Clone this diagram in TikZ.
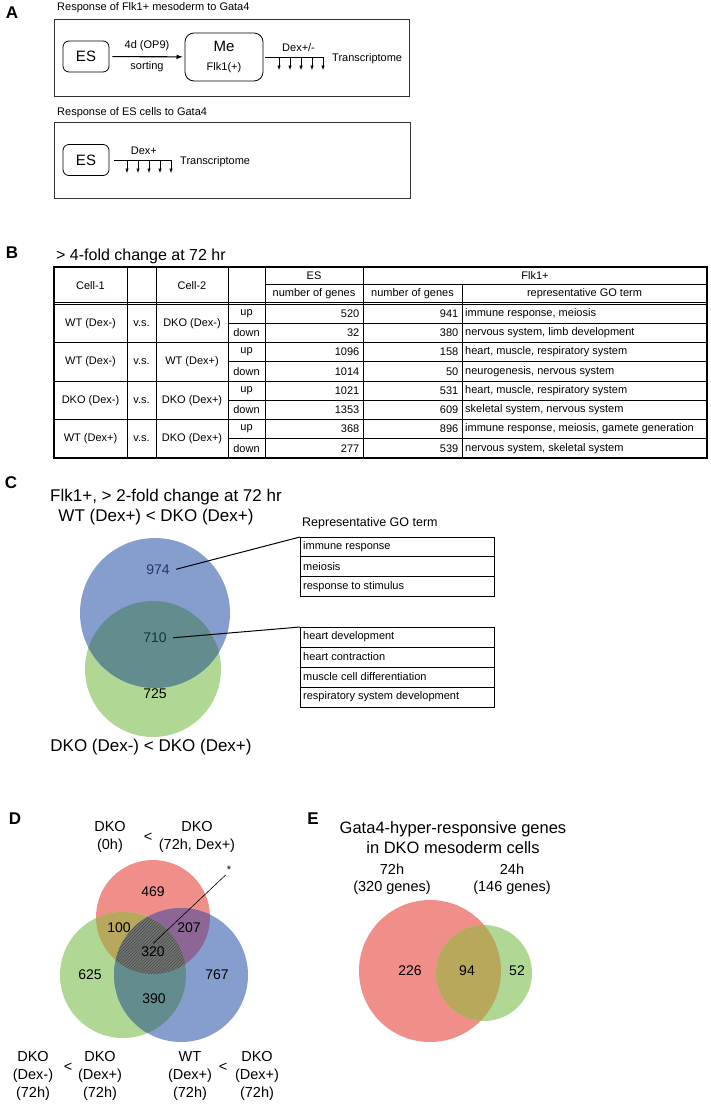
\documentclass[tikz,border=0pt]{standalone}
\usepackage{fontspec}
\setmainfont{Liberation Sans}
\usetikzlibrary{patterns}
\definecolor{vblue}{RGB}{134,158,205}
\definecolor{vgreen}{RGB}{176,216,148}
\definecolor{vteal}{RGB}{98,140,142}
\definecolor{vred}{RGB}{240,142,138}
\definecolor{vredgreen}{RGB}{183,168,92}
\definecolor{vredblue}{RGB}{140,102,148}
\definecolor{vtriple}{RGB}{112,116,112}
\definecolor{vnavy}{RGB}{35,55,100}
\definecolor{vdark}{RGB}{28,48,66}
\begin{document}
\begin{tikzpicture}[x=1pt,y=-1pt,>=latex,
  lbl/.style={font=\fontsize{17}{20}\selectfont\bfseries},
  ttl/.style={font=\fontsize{11}{13}\selectfont, anchor=west, inner sep=0pt},
  txt/.style={font=\fontsize{11}{13}\selectfont, inner sep=1pt},
  frame/.style={draw=black!80, line width=0.8pt},
  cellbox/.style={draw, rounded corners=6pt, line width=0.8pt, minimum width=46pt, minimum height=31pt, font=\fontsize{15}{18}\selectfont},
  tab/.style={font=\fontsize{11}{13}\selectfont, inner sep=0pt},
  gorow/.style={font=\fontsize{11}{13}\selectfont, anchor=west, inner sep=0pt},
  big/.style={font=\fontsize{17}{20}\selectfont},
  num/.style={font=\fontsize{14}{16}\selectfont},
  dlab/.style={font=\fontsize{14.5}{18}\selectfont, align=center, inner sep=0pt}]
\path[fill=white, use as bounding box] (0,0) rectangle (711,1104);

\node[lbl] (la) at (12,13) {A};
\node[ttl] (ta1) at (57,8) {Response of Flk1+ mesoderm to Gata4};
\draw[frame] (54,19) rectangle (409,96);
\node[cellbox] (es) at (86,56.5) {ES};
\node[cellbox, minimum width=78pt, minimum height=48pt, rounded corners=9pt, align=center] (me) at (224,57) {Me\\[1pt]{\fontsize{11}{13}\selectfont Flk1(+)}};
\draw[->, line width=1.1pt, shorten <=3pt, shorten >=2pt] (es) -- node[above=4pt, txt] {4d (OP9)} node[below=3pt, txt] {sorting} (me);
\coordinate (dx) at (324,57);
\draw[line width=0.9pt, shorten <=2pt] (me) -- node[pos=0.58, above=4pt, txt] {Dex+/-} (dx);
\draw[->, line width=0.5pt] (279,57) -- (279,70);
\draw[->, line width=0.5pt] (290,57) -- (290,70);
\draw[->, line width=0.5pt] (301,57) -- (301,70);
\draw[->, line width=0.5pt] (312,57) -- (312,70);
\draw[->, line width=0.5pt] (323,57) -- (323,70);
\node[txt, anchor=west] (tr) at (331,59) {Transcriptome};

\node[ttl] (ta2) at (57,113) {Response of ES cells to Gata4};
\draw[frame] (54,122) rectangle (410,198);
\node[cellbox] (es2) at (86,160) {ES};
\coordinate (dx2) at (172,160);
\draw[line width=0.9pt, shorten <=5pt] (es2) -- node[pos=0.55, above=4pt, txt] {Dex+} (dx2);
\draw[->, line width=0.5pt] (127,160) -- (127,173);
\draw[->, line width=0.5pt] (138,160) -- (138,173);
\draw[->, line width=0.5pt] (149,160) -- (149,173);
\draw[->, line width=0.5pt] (160,160) -- (160,173);
\draw[->, line width=0.5pt] (171,160) -- (171,173);
\node[txt, anchor=west] (tr2) at (179,162) {Transcriptome};

\node[lbl] (lb) at (12,253) {B};
\node[font=\fontsize{16}{19}\selectfont, anchor=west, inner sep=0pt] (tb) at (56,256) {> 4-fold change at 72 hr};
\draw[line width=1.3pt] (54,267) rectangle (707,458);
\draw[line width=0.8pt] (127,267) -- (127,458) (156,267) -- (156,458) (228,267) -- (228,458) (265,267) -- (265,458) (363,267) -- (363,458) (462,284) -- (462,458);
\draw[line width=0.8pt] (265,284) -- (707,284);
\draw[line width=0.6pt] (54,301.8) -- (707,301.8) (54,304.2) -- (707,304.2);
\draw[line width=0.8pt] (54,342.5) -- (707,342.5) (54,381) -- (707,381) (54,419.5) -- (707,419.5);
\draw[line width=0.8pt] (228,323.3) -- (707,323.3) (228,361.8) -- (707,361.8) (228,400.3) -- (707,400.3) (228,438.8) -- (707,438.8);
\node[tab] (h1) at (90.5,285.5) {Cell-1};
\node[tab] (h2) at (192,285.5) {Cell-2};
\node[tab] (h3) at (314,275.5) {ES};
\node[tab] (h4) at (314,293.5) {number of genes};
\node[tab] (h5) at (535,275.5) {Flk1+};
\node[tab] (h6) at (412.5,293.5) {number of genes};
\node[tab] (h7) at (584.5,293.5) {representative GO term};
\node[tab] (a1) at (90.5,323.3) {WT (Dex-)};
\node[tab] (v1) at (141.5,323.3) {v.s.};
\node[tab] (b1) at (192,323.3) {DKO (Dex-)};
\node[tab] (a2) at (90.5,361.8) {WT (Dex-)};
\node[tab] (v2) at (141.5,361.8) {v.s.};
\node[tab] (b2) at (192,361.8) {WT (Dex+)};
\node[tab] (a3) at (90.5,400.3) {DKO (Dex-)};
\node[tab] (v3) at (141.5,400.3) {v.s.};
\node[tab] (b3) at (192,400.3) {DKO (Dex+)};
\node[tab] (a4) at (90.5,438.8) {WT (Dex+)};
\node[tab] (v4) at (141.5,438.8) {v.s.};
\node[tab] (b4) at (192,438.8) {DKO (Dex+)};
\node[tab] (u1) at (246.5,313.6) {up};
\node[tab] (w1) at (246.5,332.9) {down};
\node[tab] (u2) at (246.5,352.1) {up};
\node[tab] (w2) at (246.5,371.4) {down};
\node[tab] (u3) at (246.5,390.6) {up};
\node[tab] (w3) at (246.5,409.9) {down};
\node[tab] (u4) at (246.5,429.1) {up};
\node[tab] (w4) at (246.5,448.4) {down};
\node[tab, anchor=east] (e1) at (359.5,313.6) {520};
\node[tab, anchor=east] (e2) at (359.5,332.9) {32};
\node[tab, anchor=east] (e3) at (359.5,352.1) {1096};
\node[tab, anchor=east] (e4) at (359.5,371.4) {1014};
\node[tab, anchor=east] (e5) at (359.5,390.6) {1021};
\node[tab, anchor=east] (e6) at (359.5,409.9) {1353};
\node[tab, anchor=east] (e7) at (359.5,429.1) {368};
\node[tab, anchor=east] (e8) at (359.5,448.4) {277};
\node[tab, anchor=east] (f1) at (458.5,313.6) {941};
\node[tab, anchor=east] (f2) at (458.5,332.9) {380};
\node[tab, anchor=east] (f3) at (458.5,352.1) {158};
\node[tab, anchor=east] (f4) at (458.5,371.4) {50};
\node[tab, anchor=east] (f5) at (458.5,390.6) {531};
\node[tab, anchor=east] (f6) at (458.5,409.9) {609};
\node[tab, anchor=east] (f7) at (458.5,429.1) {896};
\node[tab, anchor=east] (f8) at (458.5,448.4) {539};
\node[gorow] (g1) at (465,313.6) {immune response, meiosis};
\node[gorow] (g2) at (465,332.9) {nervous system, limb development};
\node[gorow] (g3) at (465,352.1) {heart, muscle, respiratory system};
\node[gorow] (g4) at (465,371.4) {neurogenesis, nervous system};
\node[gorow] (g5) at (465,390.6) {heart, muscle, respiratory system};
\node[gorow] (g6) at (465,409.9) {skeletal system, nervous system};
\node[gorow] (g7) at (465,429.1) {immune response, meiosis, gamete generation};
\node[gorow] (g8) at (465,448.4) {nervous system, skeletal system};

\node[lbl] (lc) at (11,483) {C};
\node[big] (ct1) at (166,497) {Flk1+, > 2-fold change at 72 hr};
\node[big] (ct2) at (156,517) {WT (Dex+) < DKO (Dex+)};
\fill[vgreen] (153,669) circle (68pt);
\fill[vblue] (155,613) circle (75pt);
\begin{scope}
\clip (155,613) circle (75pt);
\fill[vteal] (153,669) circle (68pt);
\end{scope}
\node[num, text=vnavy] (n974) at (158,570) {974};
\node[num, text=vdark] (n710) at (155,638) {710};
\node[num] (n725) at (155,694) {725};
\node[big] (ct3) at (151,747) {DKO (Dex-) < DKO (Dex+)};
\node[font=\fontsize{12.5}{15}\selectfont, anchor=west, inner sep=0pt] (rep) at (302,523) {Representative GO term};
\node[draw, line width=1.3pt, minimum width=194pt, minimum height=59pt, anchor=north west, inner sep=0pt] (go1) at (300,537) {};
\draw[line width=0.6pt] (300,556.7) -- (494,556.7) (300,576.3) -- (494,576.3);
\node[gorow] (s1) at (303,546.8) {immune response};
\node[gorow] (s2) at (303,566.5) {meiosis};
\node[gorow] (s3) at (303,586.2) {response to stimulus};
\node[draw, line width=1.3pt, minimum width=194pt, minimum height=80pt, anchor=north west, inner sep=0pt] (go2) at (300,627) {};
\draw[line width=0.6pt] (300,647) -- (494,647) (300,667) -- (494,667) (300,687) -- (494,687);
\node[gorow] (t1) at (303,637) {heart development};
\node[gorow] (t2) at (303,657) {heart contraction};
\node[gorow] (t3) at (303,677) {muscle cell differentiation};
\node[gorow] (t4) at (303,697) {respiratory system development};
\draw[line width=1pt, shorten <=3pt] (n974.east) -- (go1.north west);
\draw[line width=1pt, shorten <=3pt] (n710.east) -- (go2.north west);

\node[lbl] (ld) at (15,819) {D};
\fill[vred] (153,917) circle (57pt);
\fill[vgreen] (123,975) circle (63pt);
\fill[vblue] (181,975) circle (67pt);
\begin{scope}
\clip (153,917) circle (57pt);
\fill[vredgreen] (123,975) circle (63pt);
\end{scope}
\begin{scope}
\clip (153,917) circle (57pt);
\fill[vredblue] (181,975) circle (67pt);
\end{scope}
\begin{scope}
\clip (123,975) circle (63pt);
\fill[vteal] (181,975) circle (67pt);
\end{scope}
\begin{scope}
\clip (153,917) circle (57pt);
\clip (123,975) circle (63pt);
\fill[vtriple] (181,975) circle (67pt);
\fill[pattern=north east lines, pattern color=black!70] (181,975) circle (67pt);
\end{scope}
\node[num] (n469) at (153,892) {469};
\node[num] (n100) at (119,928) {100};
\node[num] (n207) at (189,928) {207};
\node[num] (n320) at (153,952) {320};
\node[num] (n625) at (90,975) {625};
\node[num] (n767) at (217,975) {767};
\node[num] (n390) at (154,999) {390};
\node[font=\fontsize{11}{13}\selectfont, inner sep=1pt] (star) at (229,870) {*};
\draw[line width=0.6pt] (n320.north) -- (star.south west);
\node[dlab] (d1) at (110,836.5) {DKO\\(0h)};
\node[dlab] (lt1) at (148,837) {<};
\node[dlab] (d2) at (197,836.5) {DKO\\(72h, Dex+)};
\node[dlab] (d3) at (33,1076) {DKO\\(Dex-)\\(72h)};
\node[dlab] (lt2) at (68,1067) {<};
\node[dlab] (d4) at (100,1076) {DKO\\(Dex+)\\(72h)};
\node[dlab] (d5) at (190,1076) {WT\\(Dex+)\\(72h)};
\node[dlab] (lt3) at (223,1067) {<};
\node[dlab] (d6) at (257,1076) {DKO\\(Dex+)\\(72h)};

\node[lbl] (le) at (313,819) {E};
\node[font=\fontsize{16.5}{20}\selectfont, align=center, inner sep=0pt] (et) at (453,838) {Gata4-hyper-responsive genes\\in DKO mesoderm cells};
\node[dlab, font=\fontsize{14.5}{17}\selectfont] (e72) at (392,879.5) {72h\\(320 genes)};
\node[dlab, font=\fontsize{14.5}{17}\selectfont] (e24) at (512,879.5) {24h\\(146 genes)};
\fill[vred] (430,971) circle (71pt);
\fill[vgreen] (484,973) circle (48pt);
\begin{scope}
\clip (430,971) circle (71pt);
\fill[vredgreen] (484,973) circle (48pt);
\end{scope}
\node[num] (n226) at (410,971) {226};
\node[num] (n94) at (467,971) {94};
\node[num] (n52) at (517,971) {52};
\end{tikzpicture}
\end{document}
